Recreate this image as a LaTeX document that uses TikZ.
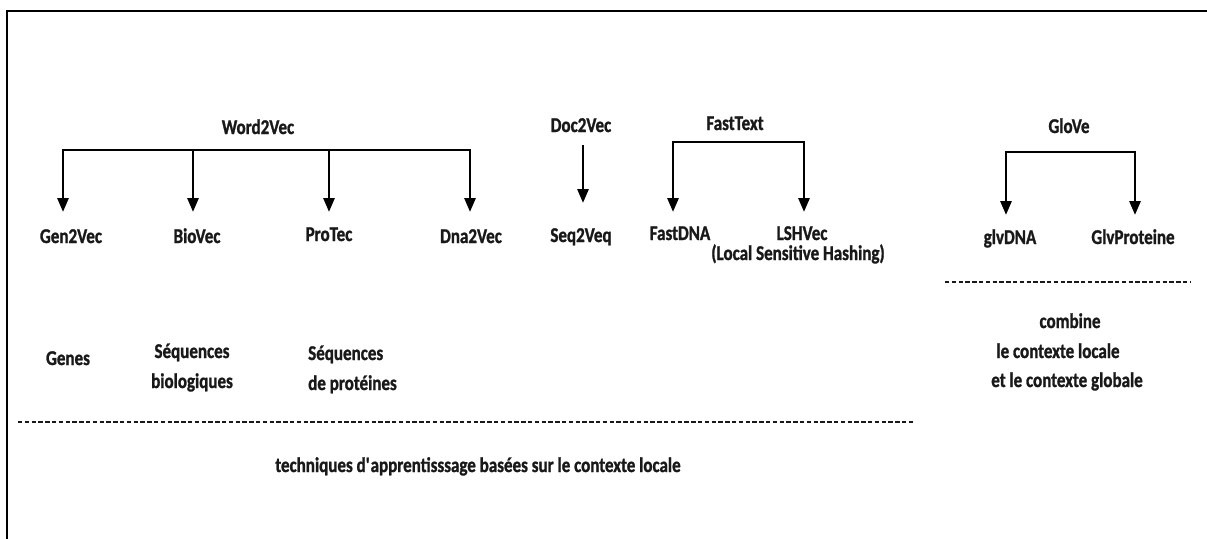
\documentclass[tikz,border=0pt]{standalone}
\usepackage{fontspec}
\setmainfont{Carlito}[FakeStretch=0.81, BoldFeatures={FakeBold=1.2}]
\usetikzlibrary{arrows.meta}

\begin{document}
\begin{tikzpicture}[x=1pt,y=-1pt,
  lbl/.style={font=\fontsize{21}{26}\selectfont\bfseries, text=black!90, inner sep=0pt, anchor=base},
  bar/.style={line width=2.8pt, line join=miter},
  tip/.style={-{Triangle[width=11pt,length=14pt]}},
  fork/.style={bar, {Triangle[width=11pt,length=14pt]}-{Triangle[width=11pt,length=14pt]}},
  sep/.style={line width=2pt, black!90, dash pattern=on 4.4pt off 2.4pt}
]
\useasboundingbox (0,0) rectangle (1207,538);

% frame
\draw[line width=2.6pt] (7,540) -- (7,11) -- (1209,11);

% ---- Word2Vec family
\node[lbl] (w2v) at (258,134) {Word2Vec};
\node[lbl] (gen2vec) at (71,243) {Gen2Vec};
\node[lbl] (biovec) at (197,243) {BioVec};
\node[lbl] (protec) at (329,241) {ProTec};
\node[lbl] (dna2vec) at (471,243) {Dna2Vec};
\coordinate (wA) at (63,212);
\coordinate (wB) at (193,212);
\coordinate (wC) at (329,212);
\coordinate (wD) at (470,212);
\draw[fork] (wA) -- (wA |- 0,150) -- (wD |- 0,150) -- (wD);
\draw[bar,tip] (wB |- 0,150) -- (wB);
\draw[bar,tip] (wC |- 0,150) -- (wC);

% ---- Doc2Vec
\node[lbl] (d2v) at (581,132) {Doc2Vec};
\node[lbl] (seq2veq) at (581,242) {Seq2Veq};
\coordinate (dTop) at (583,145);
\coordinate (dTip) at (583,203);
\draw[bar,tip] (dTop) -- (dTip);

% ---- FastText
\node[lbl] (ft) at (735,130) {FastText};
\node[lbl] (fastdna) at (680,240) {FastDNA};
\node[lbl] (lshvec) at (802,240) {LSHVec};
\node[lbl] (lsh2) at (798,260) {(Local Sensitive Hashing)};
\coordinate (fA) at (673,212);
\coordinate (fB) at (804,212);
\draw[fork] (fA) -- (fA |- 0,142) -- (fB |- 0,142) -- (fB);

% ---- GloVe
\node[lbl] (glove) at (1069,133) {GloVe};
\node[lbl] (glvdna) at (1010,244) {glvDNA};
\node[lbl] (glvprot) at (1133,244) {GlvProteine};
\coordinate (gA) at (1006,215);
\coordinate (gB) at (1135,215);
\draw[fork] (gA) -- (gA |- 0,152) -- (gB |- 0,152) -- (gB);

% ---- separators
\coordinate (sL1) at (18,422);
\coordinate (sL2) at (913,422);
\draw[sep] (sL1) -- (sL2);
\coordinate (sR1) at (945,282);
\coordinate (sR2) at (1190,282);
\draw[sep] (sR1) -- (sR2);

% ---- descriptions (local context)
\node[lbl] (genes) at (68,365) {Genes};
\node[lbl] (bio1) at (192,358) {Séquences};
\node[lbl] (bio2) at (192,388) {biologiques};
\node[lbl, anchor=base west] (prot1) at (308,360) {Séquences};
\node[lbl, anchor=base west] (prot2) at (308,390) {de protéines};
\node[lbl] (local) at (478,472) {techniques d\textquotesingle apprentisssage basées sur le contexte locale};

% ---- descriptions (global context)
\node[lbl] (comb1) at (1070,328) {combine};
\node[lbl] (comb2) at (1058,358) {le contexte locale};
\node[lbl] (comb3) at (1067,387) {et le contexte globale};
\end{tikzpicture}
\end{document}
